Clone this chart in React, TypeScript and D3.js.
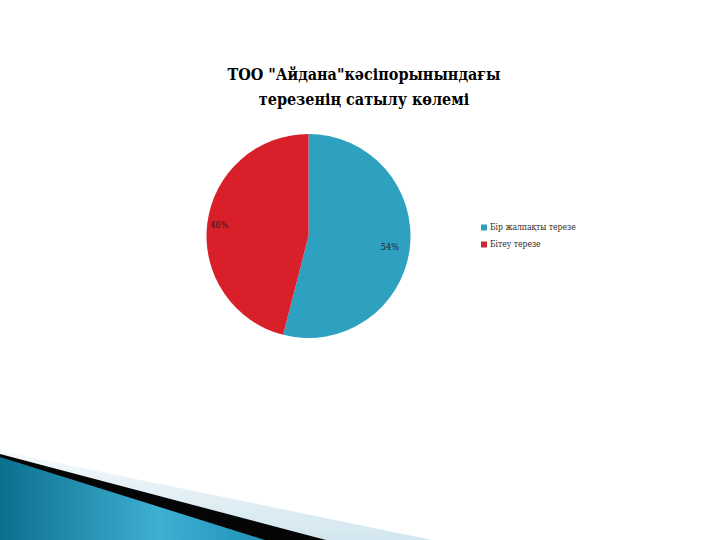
import { useMemo } from 'react';
import * as d3 from 'd3';

const titleLines = ['ТОО "Айдана"кәсіпорынындағы', 'терезенің сатылу көлемі'];
const categories = ['Бір жалпақты терезе', 'Бітеу терезе'];
const shares = [54, 46];
const sliceColors = ['#2EA1C1', '#D91F2A'];
const legendColors = ['#2A9FB5', '#C72A3A'];

const serif = '"DejaVu Serif Condensed", "DejaVu Serif", serif';

export default function App() {
  const width = 720,
    height = 540;
  const cx = 308.5,
    cy = 236,
    radius = 102;

  const arcs = useMemo(
    () =>
      d3
        .pie<number>()
        .sort(null)
        .value((d) => d)(shares),
    []
  );

  const arcGen = d3.arc<d3.PieArcDatum<number>>().innerRadius(0).outerRadius(radius);
  const labelArc = d3.arc<d3.PieArcDatum<number>>().innerRadius(86).outerRadius(86);

  const legendY = d3
    .scaleBand()
    .domain(categories)
    .range([219, 253])
    .padding(0);

  return (
    <svg
      width={width}
      height={height}
      style={{ position: 'fixed', left: 0, top: 0, background: '#fff' }}
    >
      <defs>
        <linearGradient id="blueBand" x1="0" y1="0" x2="1" y2="0">
          <stop offset="0" stopColor="#0B6F8E" />
          <stop offset="0.6" stopColor="#3FAFD3" />
          <stop offset="1" stopColor="#1E93B8" />
        </linearGradient>
        <linearGradient id="lightBand" x1="0" y1="0" x2="0" y2="1">
          <stop offset="0" stopColor="#F4F9FB" />
          <stop offset="1" stopColor="#D2E6EF" />
        </linearGradient>
      </defs>

      {/* decorative corner bands */}
      <polygon points="0,451 432,540 0,540" fill="url(#lightBand)" />
      <polygon points="0,454 326,540 0,540" fill="#050505" />
      <polygon points="0,457 265,540 0,540" fill="url(#blueBand)" />

      <g style={{ fontFamily: serif }} fontWeight="bold" fontSize={16} textAnchor="middle" fill="#000">
        {titleLines.map((t, i) => (
          <text key={i} x={364} y={80 + i * 25}>
            {t}
          </text>
        ))}
      </g>

      <g transform={`translate(${cx},${cy})`}>
        {arcs.map((a, i) => (
          <path key={i} d={arcGen(a) ?? ''} fill={sliceColors[i]} />
        ))}
        {arcs.map((a, i) => {
          const [lx, ly] = labelArc.centroid(a);
          return (
            <text
              key={'l' + i}
              x={lx - 4}
              y={ly}
              dy="0.35em"
              textAnchor="middle"
              style={{ fontFamily: serif }}
              fontSize={9}
              fill="#222"
            >
              {a.data}%
            </text>
          );
        })}
      </g>

      <g style={{ fontFamily: serif }} fontSize={8.5} fill="#2a2a2a">
        {categories.map((c, i) => {
          const y = (legendY(c) ?? 0) + legendY.bandwidth() / 2;
          return (
            <g key={c}>
              <rect x={481} y={y - 3} width={6} height={6} fill={legendColors[i]} />
              <text x={490} y={y} dy="0.35em">
                {c}
              </text>
            </g>
          );
        })}
      </g>
    </svg>
  );
}
